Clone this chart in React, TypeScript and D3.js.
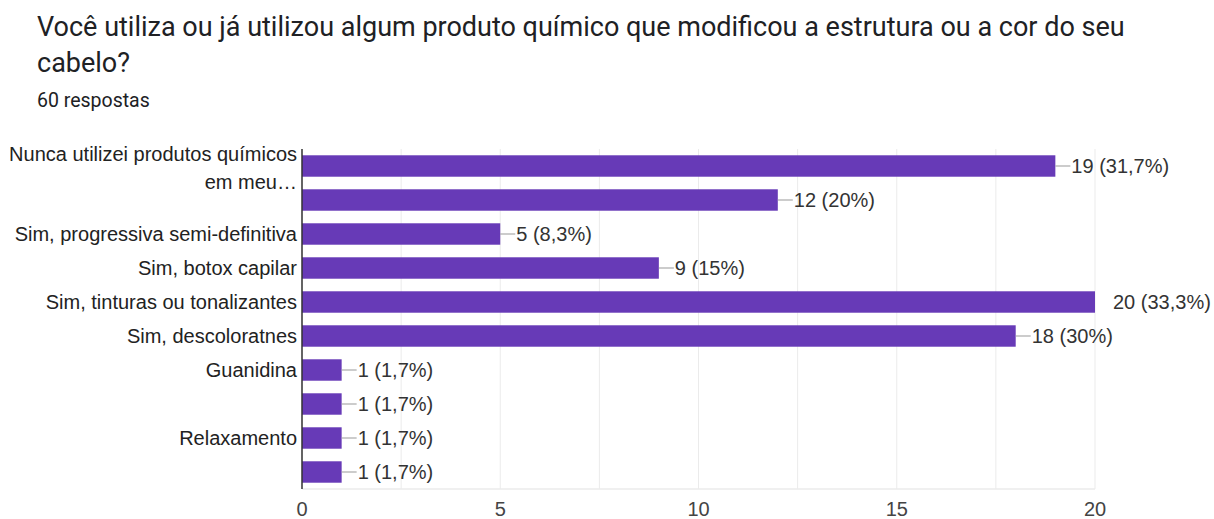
import React from "react";
import * as d3 from "d3";

const titleLines = [
  "Você utiliza ou já utilizou algum produto químico que modificou a estrutura ou a cor do seu",
  "cabelo?",
];
const subtitle = "60 respostas";

const categories: string[][] = [
  ["Nunca utilizei produtos químicos", "em meu…"],
  [],
  ["Sim, progressiva semi-definitiva"],
  ["Sim, botox capilar"],
  ["Sim, tinturas ou tonalizantes"],
  ["Sim, descoloratnes"],
  ["Guanidina"],
  [],
  ["Relaxamento"],
  [],
];
const counts = [19, 12, 5, 9, 20, 18, 1, 1, 1, 1];
const valueLabels = [
  "19 (31,7%)",
  "12 (20%)",
  "5 (8,3%)",
  "9 (15%)",
  "20 (33,3%)",
  "18 (30%)",
  "1 (1,7%)",
  "1 (1,7%)",
  "1 (1,7%)",
  "1 (1,7%)",
];
const xTicks = [0, 5, 10, 15, 20];
const gridTicks = [0, 2.5, 5, 7.5, 10, 12.5, 15, 17.5, 20];

const W = 1214;
const H = 519;
const left = 302;
const right = 1095;
const top = 149;
const bottom = 489;
const purple = "#673ab7";
const labelFont = "'Liberation Sans', Arial, sans-serif";
const fs = 20;

export default function App() {
  const x = d3.scaleLinear().domain([0, 20]).range([left, right]);
  const y = d3
    .scaleBand<number>()
    .domain(d3.range(counts.length))
    .range([top, bottom])
    .paddingInner(0.37)
    .paddingOuter(0.185);
  const bh = y.bandwidth();

  return (
    <svg
      width={W}
      height={H}
      style={{ position: "absolute", left: 0, top: 0, background: "#fff" }}
    >
      <rect width={W} height={H} fill="#fff" />
      {titleLines.map((t, i) => (
        <text
          key={i}
          x={37}
          y={36 + i * 36}
          fontFamily="Roboto, sans-serif"
          fontSize={27}
          fill="#202124"
        >
          {t}
        </text>
      ))}
      <text x={37} y={107} fontFamily="Roboto, sans-serif" fontSize={19.5} fill="#202124">
        {subtitle}
      </text>

      {gridTicks.map((t) => (
        <line
          key={t}
          x1={x(t)}
          x2={x(t)}
          y1={top}
          y2={bottom}
          stroke="#ebebeb"
          strokeWidth={1}
        />
      ))}
      <line x1={left} x2={right} y1={bottom} y2={bottom} stroke="#ebebeb" strokeWidth={1.5} />

      {counts.map((v, i) => {
        const yc = (y(i) as number) + bh / 2;
        const xe = x(v);
        const isMax = v === d3.max(counts);
        return (
          <g key={i}>
            <rect x={x(0)} y={y(i)} width={xe - x(0)} height={bh} fill={purple} />
            {!isMax && (
              <line x1={xe} x2={xe + 15} y1={yc} y2={yc} stroke="#999" strokeWidth={1} />
            )}
            <text
              x={isMax ? xe + 18 : xe + 16}
              y={yc + 7}
              fontFamily={labelFont}
              fontSize={fs}
              fill="#333"
            >
              {valueLabels[i]}
            </text>
            {categories[i].map((line, j) => {
              const n = categories[i].length;
              const off = n === 1 ? 7 : j === 0 ? -5.5 : 22.5;
              return (
                <text
                  key={j}
                  x={left - 5}
                  y={yc + off}
                  textAnchor="end"
                  fontFamily={labelFont}
                  fontSize={fs}
                  fill="#222"
                >
                  {line}
                </text>
              );
            })}
          </g>
        );
      })}

      <line x1={left} x2={left} y1={top} y2={bottom} stroke="#333" strokeWidth={1.5} />

      {xTicks.map((t) => (
        <text
          key={t}
          x={x(t)}
          y={516}
          textAnchor="middle"
          fontFamily={labelFont}
          fontSize={fs}
          fill="#444"
        >
          {t}
        </text>
      ))}
    </svg>
  );
}
